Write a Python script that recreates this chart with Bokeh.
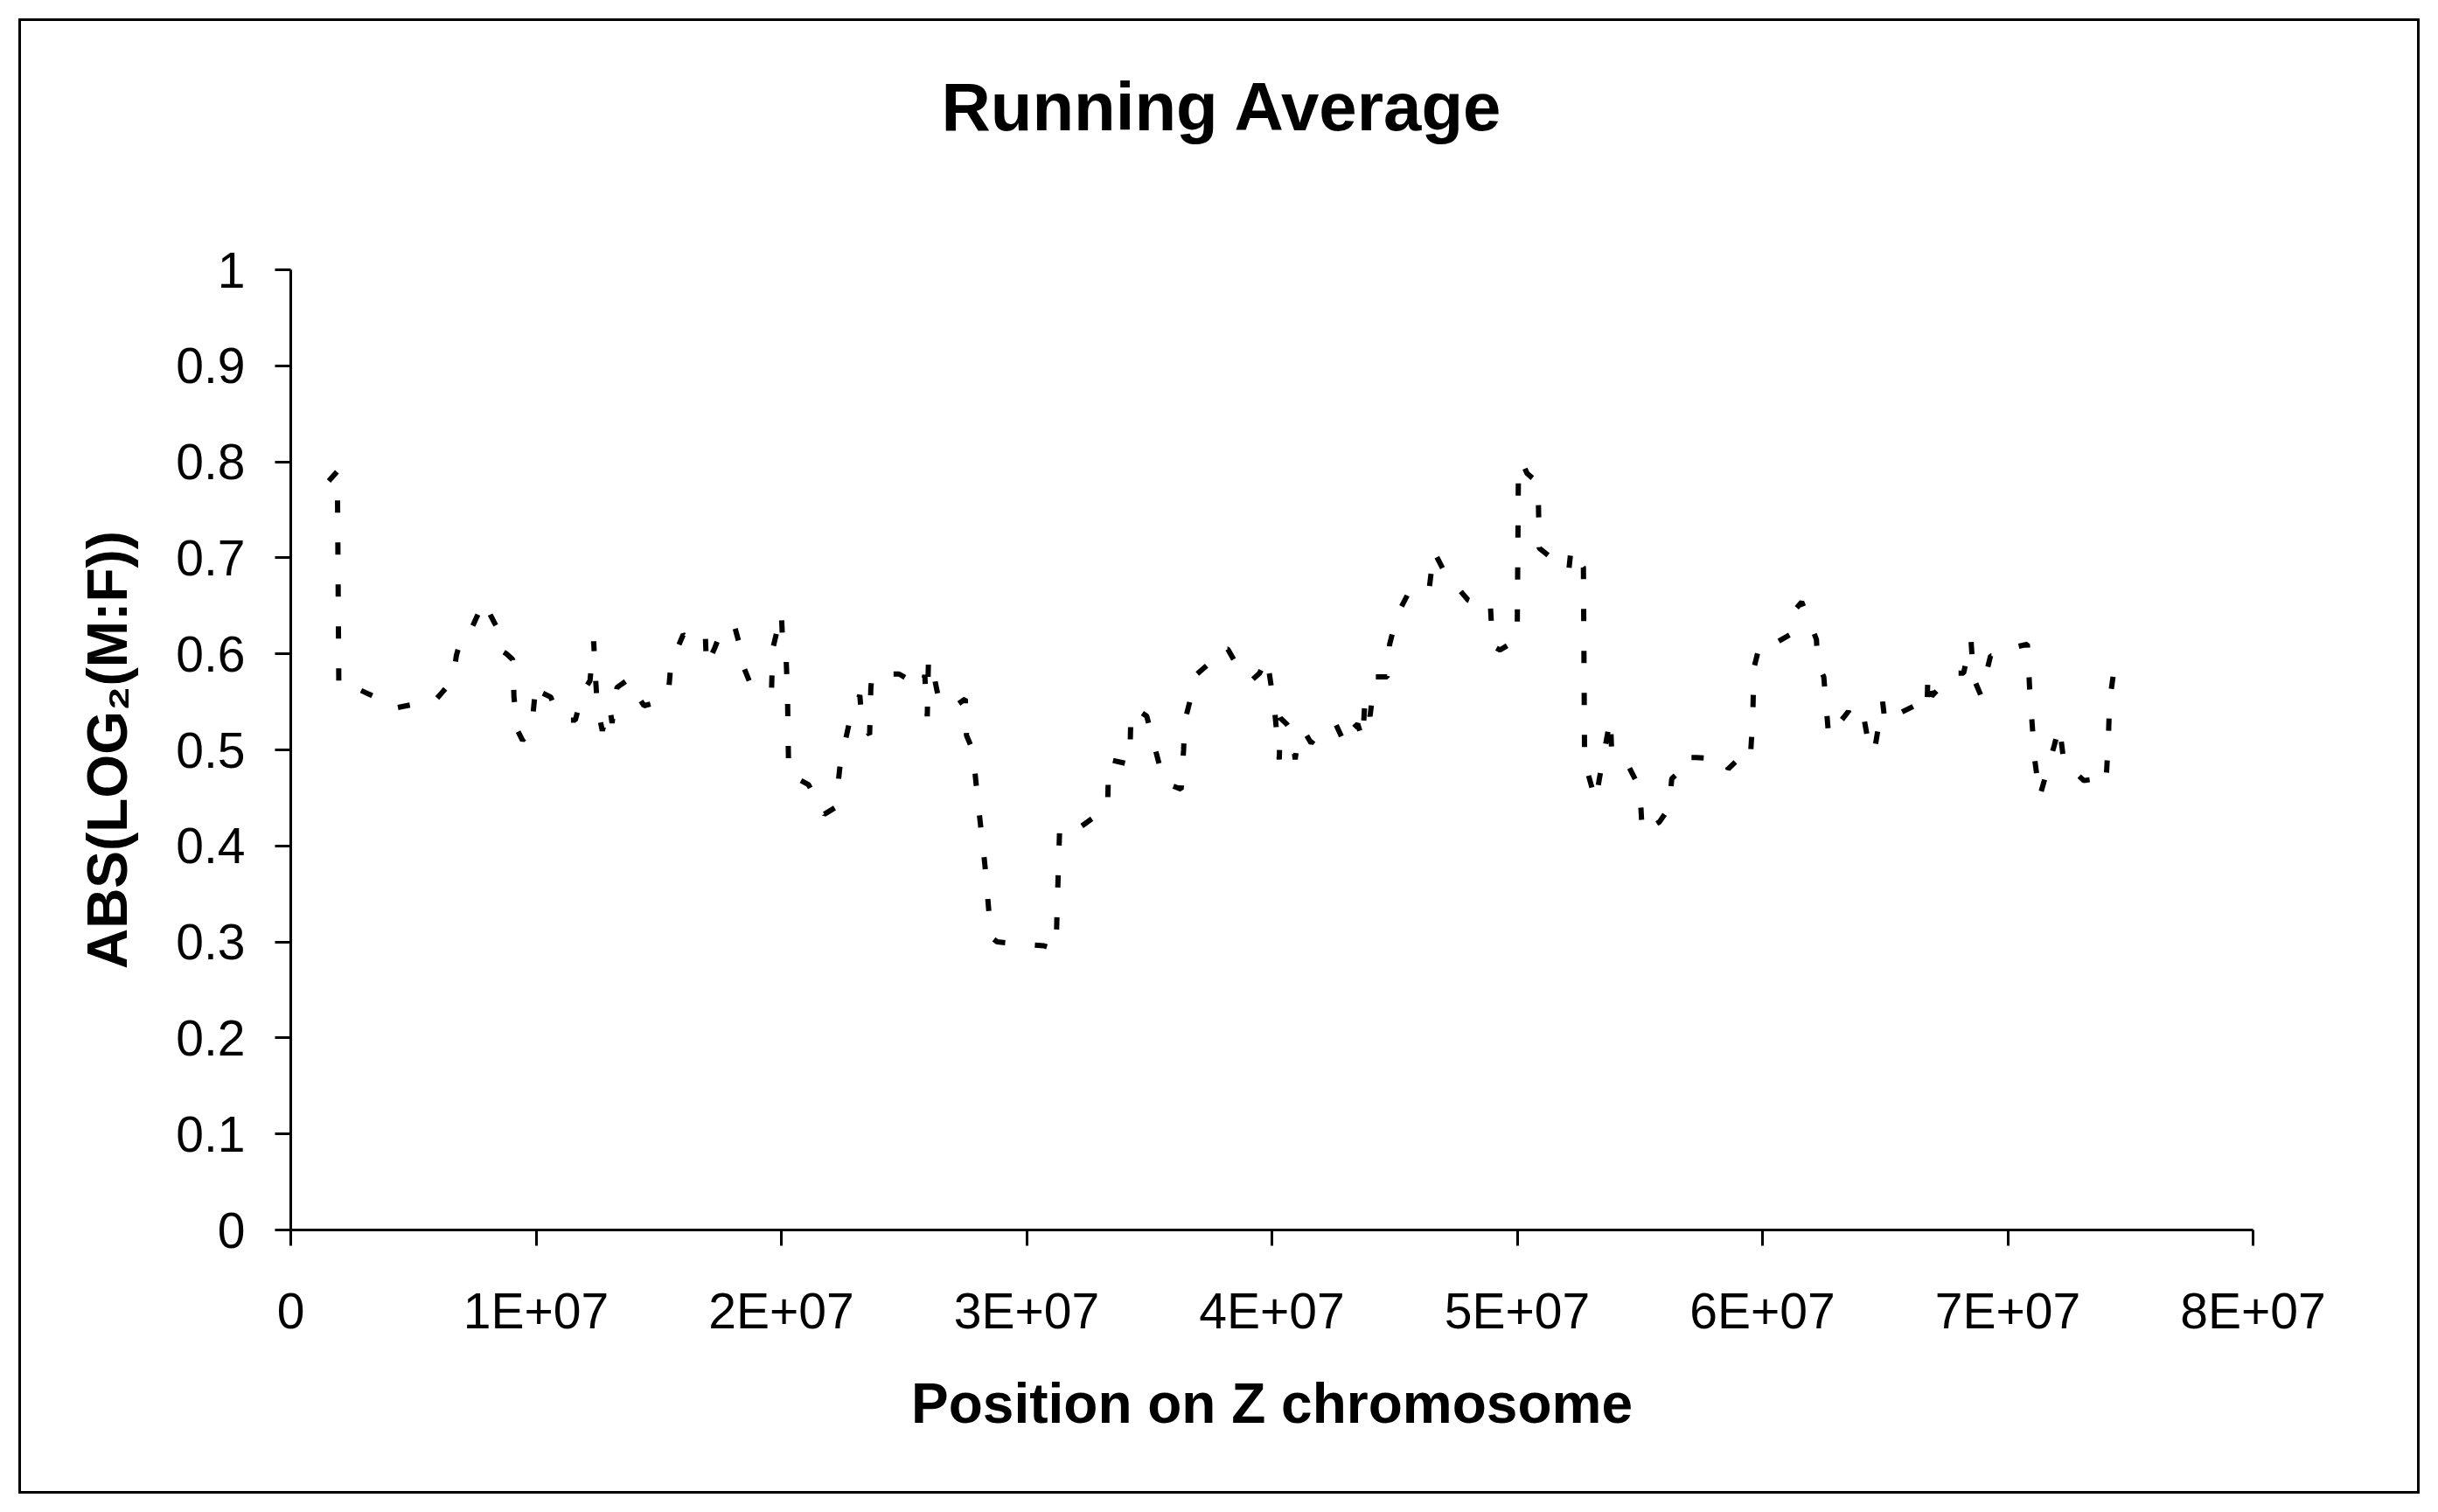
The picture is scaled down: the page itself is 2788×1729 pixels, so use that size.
from bokeh.plotting import figure
from bokeh.models import FixedTicker, Range1d, Title
from bokeh.embed import file_html
from bokeh.resources import INLINE

# ---------------- data ----------------
position_mb = [
    1.55, 1.90, 1.96, 2.60, 3.70, 4.15, 5.30, 5.80, 6.45, 6.65, 6.75, 6.90, 7.20, 7.40,
    7.70, 7.90, 8.15, 8.45, 8.50, 8.80, 9.05, 9.10, 9.25, 9.45, 9.80, 9.85, 10.00, 10.20,
    10.60, 10.80, 11.20, 11.60, 11.90, 12.20, 12.35, 12.40, 12.50, 12.70, 13.00, 13.10,
    13.30, 13.80, 14.10, 14.40, 15.00, 15.40, 15.50, 16.00, 16.50, 16.90, 16.95, 17.30,
    17.60, 18.10, 18.40, 18.45, 18.80, 19.60, 19.65, 20.00, 20.05, 20.20, 20.25, 20.30,
    21.10, 21.50, 21.75, 22.20, 22.25, 22.40, 22.75, 23.00, 23.20, 23.30, 23.60, 23.65,
    23.70, 24.30, 24.80, 25.75, 25.85, 25.90, 25.95, 26.00, 26.20, 26.40, 26.70, 27.00,
    27.50, 27.55, 27.80, 28.00, 28.30, 28.55, 28.80, 29.70, 30.70, 31.20, 31.25, 31.35,
    32.10, 33.30, 33.35, 34.20, 34.25, 34.40, 34.90, 35.20, 35.60, 36.30, 36.40, 36.45,
    36.70, 36.90, 37.40, 37.80, 38.20, 38.80, 39.20, 39.50, 39.80, 40.10, 40.30, 40.35,
    40.60, 40.80, 40.95, 41.00, 41.30, 41.60, 42.00, 42.60, 43.00, 43.20, 43.50, 43.70,
    43.80, 44.00, 44.20, 44.70, 44.80, 45.10, 45.60, 46.40, 46.60, 47.00, 47.20, 48.00,
    48.60, 48.90, 49.00, 49.30, 50.00, 50.05, 50.20, 50.40, 50.85, 50.90, 51.40, 52.10,
    52.20, 52.70, 52.75, 52.90, 53.20, 53.35, 53.80, 53.85, 54.40, 55.00, 55.10, 55.80,
    56.20, 56.30, 56.60, 56.70, 57.30, 58.50, 58.60, 59.20, 59.50, 59.60, 59.65, 59.90,
    60.50, 61.20, 61.30, 61.60, 62.00, 62.20, 62.25, 62.50, 62.60, 62.70, 63.50, 63.70,
    64.10, 64.30, 64.55, 64.90, 65.00, 65.50, 66.20, 66.70, 66.75, 66.90, 67.80, 68.20,
    68.50, 68.60, 68.90, 69.30, 69.70, 70.30, 70.80, 70.90, 71.00, 71.10, 71.30, 71.90,
    72.10, 72.30, 72.60, 73.10, 73.60, 74.00, 74.10, 74.15, 74.40,
]
abs_log2_mf = [
    0.780, 0.790, 0.565, 0.565, 0.552, 0.543, 0.549, 0.549, 0.568, 0.580, 0.598, 0.612, 0.616, 0.628,
    0.645, 0.655, 0.640, 0.625, 0.605, 0.600, 0.594, 0.555, 0.520, 0.510, 0.520, 0.530, 0.570, 0.560,
    0.555, 0.542, 0.531, 0.531, 0.560, 0.572, 0.613, 0.585, 0.545, 0.520, 0.545, 0.528,
    0.565, 0.574, 0.558, 0.546, 0.550, 0.560, 0.590, 0.620, 0.612, 0.620, 0.587, 0.607,
    0.628, 0.628, 0.600, 0.587, 0.565, 0.562, 0.605, 0.643, 0.615, 0.592, 0.560, 0.475,
    0.464, 0.446, 0.433, 0.440, 0.450, 0.485, 0.526, 0.545, 0.557, 0.525, 0.516, 0.565,
    0.578, 0.579, 0.579, 0.565, 0.578, 0.548, 0.535, 0.595, 0.580, 0.555, 0.546, 0.544,
    0.553, 0.515, 0.500, 0.450, 0.380, 0.305, 0.300, 0.298, 0.296, 0.292, 0.340, 0.420,
    0.418, 0.440, 0.490, 0.485, 0.533, 0.544, 0.535, 0.505, 0.466, 0.459, 0.500, 0.530,
    0.555, 0.578, 0.589, 0.605, 0.605, 0.578, 0.573, 0.580, 0.596, 0.544, 0.490, 0.533,
    0.527, 0.520, 0.490, 0.500, 0.520, 0.507, 0.520, 0.527, 0.505, 0.520, 0.527, 0.510,
    0.555, 0.535, 0.576, 0.576, 0.610, 0.640, 0.665, 0.665, 0.707, 0.687, 0.680, 0.656,
    0.650, 0.654, 0.608, 0.604, 0.615, 0.790, 0.800, 0.788, 0.778, 0.710, 0.700, 0.686,
    0.710, 0.690, 0.480, 0.474, 0.447, 0.470, 0.533, 0.500, 0.490, 0.460, 0.414, 0.425,
    0.440, 0.470, 0.477, 0.492, 0.492, 0.490, 0.480, 0.495, 0.490, 0.530, 0.585, 0.611,
    0.611, 0.621, 0.645, 0.654, 0.628, 0.615, 0.590, 0.576, 0.545, 0.514, 0.540, 0.530,
    0.538, 0.510, 0.497, 0.550, 0.528, 0.537, 0.546, 0.540, 0.580, 0.556, 0.580, 0.580,
    0.615, 0.575, 0.557, 0.598, 0.598, 0.607, 0.610, 0.560, 0.525, 0.490, 0.451, 0.505,
    0.525, 0.485, 0.480, 0.468, 0.470, 0.464, 0.510, 0.550, 0.596,
]

x_ticks = [0, 10000000, 20000000, 30000000, 40000000, 50000000, 60000000, 70000000, 80000000]
x_tick_labels = ["0", "1E+07", "2E+07", "3E+07", "4E+07", "5E+07", "6E+07", "7E+07", "8E+07"]
y_ticks = [0, 0.1, 0.2, 0.3, 0.4, 0.5, 0.6, 0.7, 0.8, 0.9, 1]
y_tick_labels = ["0", "0.1", "0.2", "0.3", "0.4", "0.5", "0.6", "0.7", "0.8", "0.9", "1"]

title_text = "Running Average"
x_label_text = "Position on Z chromosome"
y_label_text = "ABS(LOG\u2082(M:F))"

# ---------------- layout ----------------
W, H = 2788, 1729
FL, FT, FR, FB = 332, 308, 2576, 1406   # frame edges (canvas px)
FONT = "Liberation Sans"

p = figure(width=W, height=H, x_range=Range1d(0, 80000000), y_range=Range1d(0, 1),
           output_backend="svg", toolbar_location=None,
           min_border_left=FL, min_border_right=W - FR,
           min_border_top=FT, min_border_bottom=H - FB)
p.outline_line_color = None
p.border_fill_color = None
p.background_fill_color = None
p.xgrid.visible = False
p.ygrid.visible = False
p.styles = {"outline": "3px solid black", "outline-offset": "-24px"}

for ax, ticks, labels in ((p.xaxis[0], x_ticks, x_tick_labels), (p.yaxis[0], y_ticks, y_tick_labels)):
    ax.ticker = FixedTicker(ticks=ticks)
    ax.major_label_overrides = dict(zip(ticks, labels))
    ax.axis_line_color = "black"
    ax.axis_line_width = 3
    ax.major_tick_line_color = "black"
    ax.major_tick_line_width = 3
    ax.major_tick_out = 18
    ax.major_tick_in = 0
    ax.minor_tick_out = 0
    ax.minor_tick_in = 0
    ax.major_label_text_font = FONT
    ax.major_label_text_font_size = "57px"
    ax.major_label_text_color = "black"
    ax.axis_label_text_font = FONT
    ax.axis_label_text_font_style = "bold"
    ax.axis_label_text_font_size = "64px"
    ax.axis_label_text_color = "black"

p.xaxis[0].major_label_standoff = 42
p.yaxis[0].major_label_standoff = 34
p.xaxis[0].axis_label = x_label_text
p.yaxis[0].axis_label = y_label_text
p.xaxis[0].axis_label_standoff = 35
p.yaxis[0].axis_label_standoff = 39

# spacer between frame and title (keeps the title high without moving the frame)
p.add_layout(Title(text=" ", text_font_size="10px", standoff=130), "above")
p.add_layout(Title(text=title_text, text_font=FONT, text_font_style="bold",
                   text_font_size="78px", text_color="black", align="left",
                   offset=744, standoff=0), "above")

p.line([m * 1e6 for m in position_mb], abs_log2_mf, line_color="black",
       line_width=6, line_dash="14 34")

open("out.html", "w").write(file_html(p, INLINE))
